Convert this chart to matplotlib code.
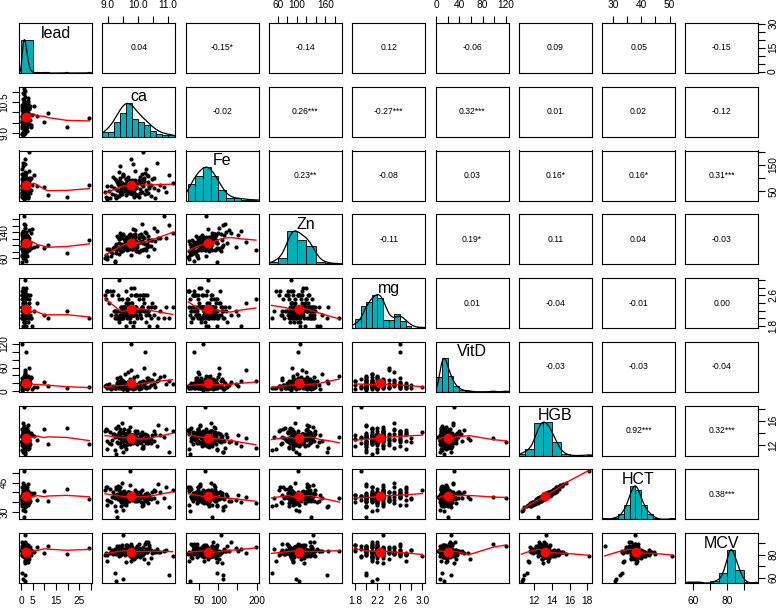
import numpy as np
import matplotlib
matplotlib.use("Agg")
import matplotlib.pyplot as plt
from matplotlib import font_manager
from matplotlib.patches import Rectangle

# ---------------- data ----------------
names = ["lead", "ca", "Fe", "Zn", "mg", "VitD", "HGB", "HCT", "MCV"]

lead = [1.6, 1.0, 2.4, 0.6, 2.0, 3.2, 1.4, 1.8, 0.5, 2.7, 0.9, 2.2, 1.3, 3.6,
        1.9, 0.7, 2.3, 1.1, 29.3, 1.7, 0.8, 3.0, 1.5, 1.2, 0.5, 2.2, 3.4, 1.0,
        1.9, 2.6, 1.4, 0.4, 2.1, 0.8, 19.6, 2.8, 1.7, 1.0, 4.1, 1.5, 1.2, 2.4,
        0.7, 2.0, 0.9, 3.1, 1.8, 1.3, 5.6, 2.2, 1.1, 0.3, 2.6, 1.6, 1.4, 1.9,
        3.5, 1.0, 2.3, 11.5, 1.3, 2.9, 1.5, 0.6, 1.9, 1.2, 2.3, 0.8, 3.2, 1.7,
        1.1, 2.1, 0.5, 2.5, 1.6, 7.0, 1.0, 2.2, 2.7, 0.7, 1.7, 4.4, 1.3, 2.0,
        2.4, 0.9, 1.5, 3.3, 1.3, 0.5, 2.1, 10.0, 1.8, 2.8, 1.0, 1.6, 0.6, 2.5,
        1.9, 1.4, 3.7, 0.8, 1.7, 2.3, 1.2, 2.0, 0.4, 3.0, 1.5, 1.0, 4.8, 1.8,
        1.4, 2.6, 2.0, 0.6, 1.1, 3.9, 1.6, 0.7, 2.5, 2.1, 1.3, 1.8, 3.1, 1.0,
        2.2, 0.5, 1.7, 2.7, 1.2, 1.5, 3.4, 0.9, 2.0, 2.4, 1.4, 0.7, 1.9, 1.1]

ca = [9.72, 9.46, 10.12, 9.33, 9.88, 9.65, 10.27, 9.52, 8.94, 9.77, 10.05, 9.43, 10.48, 9.91,
      9.57, 9.68, 9.25, 11.15, 9.74, 9.83, 9.49, 10.17, 9.62, 9.08, 10.35, 9.79, 9.44, 9.37,
      9.95, 9.71, 10.08, 9.55, 10.22, 9.66, 9.29, 10.68, 9.76, 9.86, 9.41, 9.63, 10.14, 9.58,
      9.69, 9.34, 9.92, 10.43, 9.47, 9.75, 10.31, 10.03, 8.97, 9.64, 9.53, 9.84, 9.22, 9.78,
      10.19, 9.42, 9.73, 9.97, 10.87, 9.61, 9.56, 10.26, 9.36, 9.70, 9.14, 9.48, 9.89, 10.07,
      9.67, 10.38, 9.51, 9.79, 9.27, 9.81, 8.91, 9.45, 10.11, 9.62, 10.52, 9.31, 9.74, 9.59,
      9.94, 9.68, 9.43, 10.16, 9.38, 9.77, 10.24, 9.54, 9.65, 9.87, 9.03, 10.73, 9.24, 9.71,
      9.50, 10.09, 9.63, 9.93, 10.33, 9.46, 9.35, 9.76, 8.96, 10.57, 9.66, 9.41, 9.85, 10.18,
      9.72, 9.28, 9.57, 9.82, 9.61, 10.29, 11.04, 10.04, 9.49, 9.78, 9.32, 9.17, 9.98, 9.64,
      10.36, 10.13, 8.98, 9.96, 10.45, 9.39, 10.21, 10.92, 9.90, 9.11, 10.06, 10.64, 10.32, 10.55]

Fe = [68, 47, 91, 33, 72, 64, 55, 108, 27, 42, 86, 77, 95, 128,
      51, 61, 36, 83, 75, 152, 113, 69, 97, 24, 45, 79, 58, 88,
      66, 92, 44, 73, 38, 104, 29, 53, 62, 49, 99, 85, 117, 70,
      57, 76, 81, 31, 41, 65, 110, 94, 22, 59, 71, 87, 63, 172,
      89, 46, 78, 35, 67, 96, 52, 134, 74, 43, 39, 82, 61, 106,
      54, 69, 115, 93, 26, 71, 48, 84, 77, 37, 102, 56, 90, 64,
      62, 73, 41, 198, 31, 59, 119, 68, 86, 28, 50, 75, 98, 81,
      79, 88, 95, 34, 109, 66, 53, 44, 70, 23, 47, 146, 72, 83,
      57, 91, 64, 38, 76, 42, 112, 30, 67, 55, 85, 105, 78, 97,
      63, 49, 25, 36, 74, 124, 101, 46, 92, 69, 58, 158, 87, 61]

Zn = [88, 104, 127, 92, 109, 112, 85, 134, 71, 96, 122, 83, 117, 146,
      101, 94, 52, 138, 115, 131, 99, 125, 106, 82, 68, 87, 91, 119,
      86, 129, 110, 97, 103, 89, 75, 121, 93, 114, 136, 84, 166, 98,
      107, 90, 124, 116, 81, 102, 95, 132, 64, 88, 118, 127, 93, 111,
      121, 85, 105, 99, 189, 92, 113, 137, 87, 108, 77, 96, 126, 83,
      94, 117, 130, 89, 104, 97, 62, 123, 86, 111, 153, 91, 135, 100,
      114, 98, 128, 84, 73, 106, 139, 90, 118, 95, 87, 122, 47, 103,
      92, 133, 109, 81, 115, 99, 126, 69, 88, 112, 120, 94, 148, 105,
      131, 86, 116, 97, 124, 102, 163, 79, 85, 119, 129, 91, 93, 108,
      96, 113, 56, 82, 98, 107, 89, 122, 135, 66, 110, 142, 128, 87]

mg = [2.2, 2.0, 2.3, 2.6, 2.1, 2.2, 1.9, 2.3, 2.5, 2.1, 2.2, 2.0, 2.4, 2.3,
      2.1, 2.3, 2.2, 2.3, 2.0, 2.1, 2.2, 2.6, 1.8, 2.7, 2.2, 2.1, 2.0, 2.5,
      2.3, 2.2, 2.1, 2.3, 2.6, 2.4, 2.2, 2.0, 2.1, 2.8, 2.0, 2.2, 2.3, 2.1,
      2.0, 2.2, 2.6, 2.3, 2.1, 1.9, 2.2, 2.5, 2.7, 2.0, 2.3, 2.1, 2.2, 2.4,
      2.2, 2.1, 2.3, 2.0, 2.0, 2.2, 2.3, 2.1, 3.0, 2.2, 2.6, 2.5, 2.3, 2.1,
      2.3, 1.8, 2.0, 2.2, 2.1, 2.4, 2.6, 2.3, 2.2, 2.7, 2.1, 2.0, 2.3, 2.2,
      2.1, 2.2, 2.3, 2.5, 2.0, 2.6, 2.2, 2.1, 2.3, 1.9, 2.4, 2.2, 2.0, 2.3,
      2.2, 2.0, 2.1, 2.6, 2.3, 2.2, 2.0, 2.1, 2.7, 2.3, 2.5, 2.2, 1.8, 2.6,
      2.3, 2.1, 2.2, 2.3, 2.4, 2.6, 2.0, 2.2, 2.1, 2.8, 2.0, 2.7, 2.2, 2.5,
      2.1, 2.3, 2.7, 2.6, 2.0, 1.9, 2.4, 2.3, 2.2, 2.1, 2.6, 1.8, 2.2, 2.3]

VitD = [14.2, 8.5, 22.6, 17.8, 35.1, 12.4, 9.2, 26.3, 15.7, 19.4, 7.1, 13.6, 28.9, 16.5,
        42.6, 24.8, 9.7, 18.2, 11.3, 13.9, 6.4, 21.5, 16.1, 8.8, 33.7, 19.6, 27.2, 12.8,
        17.3, 9.5, 23.9, 14.6, 98.0, 11.7, 8.1, 29.4, 18.8, 15.2, 36.8, 7.6, 21.1, 13.3,
        19.9, 25.7, 8.3, 16.9, 12.1, 31.5, 9.9, 22.3, 14.8, 3.8, 18.5, 27.8, 11.2, 54.3,
        15.6, 7.8, 20.4, 13.1, 38.2, 17.4, 9.4, 24.1, 11.9, 19.0, 8.6, 29.7, 16.3, 12.5,
        22.8, 26.9, 6.9, 18.7, 14.4, 10.8, 13.7, 15.9, 9.1, 21.8, 44.5, 33.2, 17.1, 8.2,
        12.9, 19.3, 27.5, 25.2, 16.6, 120.0, 11.5, 23.4, 7.4, 14.1, 18.1, 37.4, 9.8, 10.6,
        16.8, 8.9, 21.7, 13.5, 30.6, 17.9, 9.6, 28.1, 15.4, 11.8, 47.9, 19.7, 7.3, 24.5,
        14.9, 12.7, 10.3, 18.4, 8.0, 34.5, 26.2, 22.0, 16.0, 9.3, 20.9, 13.0, 39.6, 17.6,
        11.0, 23.1, 8.7, 15.1, 29.0, 12.2, 57.8, 19.1, 9.0, 6.6, 14.0, 25.9, 31.9, 18.0]

HGB = [13.2, 12.6, 14.1, 13.5, 12.9, 13.8, 12.3, 13.4, 14.6, 12.8, 13.1, 11.7, 13.6, 12.5,
       13.9, 12.7, 13.3, 14.4, 12.2, 13.7, 10.8, 12.9, 13.0, 14.2, 12.4, 13.5, 11.9, 13.8,
       12.6, 12.8, 13.4, 12.1, 13.1, 13.9, 14.8, 15.3, 13.6, 12.5, 14.0, 13.2, 11.5, 12.9,
       13.7, 12.3, 14.3, 13.0, 12.7, 18.2, 13.5, 12.8, 14.5, 13.3, 11.8, 12.4, 13.9, 13.1,
       12.9, 14.7, 13.6, 12.2, 13.4, 11.4, 13.8, 12.6, 14.1, 13.2, 12.8, 15.6, 13.5, 12.5,
       14.2, 13.0, 12.7, 13.7, 10.6, 12.9, 14.4, 13.3, 12.3, 13.9, 12.6, 13.6, 14.9, 12.1,
       13.4, 12.8, 14.0, 11.6, 13.1, 12.5, 13.8, 14.6, 12.9, 13.2, 12.4, 13.7, 11.2, 14.3,
       12.7, 13.5, 12.2, 14.1, 13.0, 12.8, 15.1, 13.3, 12.6, 13.9, 14.5, 12.3, 13.6, 11.9,
       13.2, 14.8, 12.9, 13.4, 12.1, 13.7, 10.9, 12.7, 14.2, 13.1, 12.5, 13.8, 14.4, 13.0,
       12.8, 13.6, 11.3, 14.0, 12.4, 13.3, 12.9, 14.7, 13.5, 12.2, 13.9, 11.8, 13.1, 14.3]

HCT = [38.4, 35.6, 41.5, 38.5, 37.4, 38.4, 36.3, 38.0, 42.6, 36.8, 38.2, 33.1, 40.3, 35.5,
       39.4, 37.6, 37.3, 41.5, 36.5, 38.6, 31.0, 37.8, 37.3, 41.6, 34.8, 38.9, 35.3, 39.1,
       37.1, 35.6, 39.7, 34.2, 37.8, 40.3, 41.9, 44.4, 38.6, 37.1, 39.5, 38.3, 33.3, 36.4,
       38.8, 36.7, 41.1, 36.5, 37.3, 51.0, 39.7, 36.2, 42.7, 37.9, 34.7, 36.7, 38.7, 37.9,
       37.5, 42.9, 38.2, 35.8, 37.3, 33.6, 39.7, 35.8, 41.5, 37.1, 37.6, 44.9, 38.5, 37.3,
       39.9, 38.5, 36.5, 39.9, 30.7, 36.2, 41.5, 39.2, 35.1, 38.5, 37.2, 39.2, 43.6, 34.5,
       39.0, 36.0, 40.5, 34.7, 37.1, 37.4, 39.4, 40.6, 37.9, 38.2, 35.5, 40.2, 33.3, 40.1,
       37.8, 38.3, 35.6, 39.7, 38.3, 35.7, 43.4, 38.9, 36.3, 41.0, 40.5, 36.1, 38.7, 33.5,
       37.8, 42.8, 38.2, 37.7, 35.5, 39.0, 32.4, 37.9, 40.0, 36.8, 27.2, 40.3, 40.1, 37.8,
       37.3, 38.0, 33.8, 39.6, 37.0, 38.1, 36.5, 42.9, 39.1, 34.9, 40.4, 35.3, 36.5, 41.4]

MCV = [80.8, 85.1, 79.4, 83.6, 76.2, 87.9, 84.5, 97.0, 81.2, 86.2, 78.6, 82.3, 81.7, 83.1,
       82.1, 86.7, 84.8, 78.3, 85.6, 82.9, 59.0, 80.1, 88.3, 81.5, 83.9, 77.9, 82.7, 80.4,
       85.3, 86.5, 77.5, 83.2, 89.4, 81.9, 80.6, 82.5, 74.6, 84.1, 79.7, 87.2, 83.0, 81.4,
       86.1, 84.7, 81.1, 76.8, 88.6, 79.0, 82.2, 85.9, 80.2, 83.4, 84.4, 79.1, 82.8, 81.6,
       80.9, 79.8, 84.0, 87.4, 83.3, 73.8, 82.4, 91.2, 78.9, 85.5, 83.7, 80.5, 81.3, 82.6,
       81.0, 88.1, 84.6, 77.2, 57.0, 86.9, 79.6, 82.0, 85.0, 80.7, 82.9, 84.2, 81.8, 83.5,
       78.1, 84.9, 82.7, 86.4, 80.3, 87.6, 83.1, 81.5, 84.3, 77.7, 85.7, 82.3, 64.0, 83.8,
       84.8, 80.0, 86.3, 81.4, 72.9, 83.9, 82.6, 89.1, 79.2, 82.5, 81.7, 85.8, 83.0, 80.9,
       85.4, 81.1, 79.3, 86.0, 83.6, 81.9, 62.0, 88.9, 82.1, 84.1, 87.0, 80.7, 82.8, 83.3,
       86.6, 79.9, 74.1, 81.3, 84.0, 87.3, 76.4, 83.7, 80.2, 82.4, 78.5, 85.2, 90.6, 82.2]

# correlation texts of the upper panels
cor_labels = [
    ["", "0.04", "-0.15*", "-0.14", "0.12", "-0.06", "0.09", "0.05", "-0.15"],
    ["", "", "-0.02", "0.26***", "-0.27***", "0.32***", "0.01", "0.02", "-0.12"],
    ["", "", "", "0.23**", "-0.08", "0.03", "0.16*", "0.16*", "0.31***"],
    ["", "", "", "", "-0.11", "0.19*", "0.11", "0.04", "-0.03"],
    ["", "", "", "", "", "0.01", "-0.04", "-0.01", "0.00"],
    ["", "", "", "", "", "", "-0.03", "-0.03", "-0.04"],
    ["", "", "", "", "", "", "", "0.92***", "0.32***"],
    ["", "", "", "", "", "", "", "", "0.38***"],
    ["", "", "", "", "", "", "", "", ""],
]

# outer axis ticks and tick labels (index = variable)
top_ticks = {1: ([9.0, 9.5, 10.0, 10.5, 11.0], ["9.0", "", "10.0", "", "11.0"]),
             3: ([60, 80, 100, 120, 140, 160, 180], ["60", "", "100", "", "", "160", ""]),
             5: ([0, 20, 40, 60, 80, 100, 120], ["0", "", "40", "", "80", "", "120"]),
             7: ([30, 35, 40, 45, 50], ["30", "", "40", "", "50"])}
bottom_ticks = {0: ([0, 5, 10, 15, 20, 25, 30], ["0", "5", "", "15", "", "25", ""]),
                2: ([50, 100, 150, 200], ["50", "100", "", "200"]),
                4: ([1.8, 2.0, 2.2, 2.4, 2.6, 2.8, 3.0], ["1.8", "", "2.2", "", "2.6", "", "3.0"]),
                6: ([12, 14, 16, 18], ["12", "14", "16", "18"]),
                8: ([60, 70, 80, 90], ["60", "", "80", ""])}
left_ticks = {1: ([9.0, 9.5, 10.0, 10.5, 11.0], ["9.0", "", "", "10.5", ""]),
              3: ([60, 80, 100, 120, 140, 160, 180], ["60", "", "", "", "140", "", ""]),
              5: ([0, 20, 40, 60, 80, 100, 120], ["0", "", "", "60", "", "", "120"]),
              7: ([30, 35, 40, 45, 50], ["30", "", "", "45", ""])}
right_ticks = {0: ([0, 5, 10, 15, 20, 25, 30], ["0", "", "", "15", "", "", "30"]),
               2: ([50, 100, 150, 200], ["50", "", "150", ""]),
               4: ([1.8, 2.0, 2.2, 2.4, 2.6, 2.8, 3.0], ["1.8", "", "", "", "2.6", "", ""]),
               6: ([12, 14, 16, 18], ["12", "", "16", ""]),
               8: ([60, 70, 80, 90], ["60", "", "80", ""])}

# ---------------- styling ----------------
HIST_COL = "#00AFBB"
installed = {f.name for f in font_manager.fontManager.ttflist}
FONT = "Liberation Sans Narrow" if "Liberation Sans Narrow" in installed else "Liberation Sans"
plt.rcParams["font.family"] = [FONT, "DejaVu Sans"]

W, H = 778, 609
LEFT0, TOP0 = 19.0, 23.0
PW, PH = 73.0, 50.0
DX, DY = 83.3, 63.75


def pretty_breaks(x, nclass):
    lo, hi = float(np.min(x)), float(np.max(x))
    cell = (hi - lo) / nclass
    U = 10 ** np.floor(np.log10(cell))
    unit = U
    h, h5 = 1.5, 0.5 + 1.5 * 1.5
    if 2 * U - cell < h * (cell - unit):
        unit = 2 * U
        if 5 * U - cell < h5 * (cell - unit):
            unit = 5 * U
            if 10 * U - cell < h * (cell - unit):
                unit = 10 * U
    s = np.floor(lo / unit + 1e-7)
    e = np.ceil(hi / unit - 1e-7)
    return unit * np.arange(s, e + 1)


def hist_counts(x, breaks):
    fz = 1e-7 * np.median(np.diff(breaks))
    b = breaks.astype(float).copy()
    b[0] -= fz
    b[1:] += fz
    return np.histogram(x, bins=b)[0]


def density_curve(x):
    x = np.asarray(x, float)
    n = len(x)
    sd = x.std(ddof=1)
    q75, q25 = np.percentile(x, [75, 25])
    bw = 1.06 * min(sd, (q75 - q25) / 1.34) * n ** -0.2 * 1.2
    g = np.linspace(x.min() - 3 * bw, x.max() + 3 * bw, 512)
    d = np.exp(-0.5 * ((g[:, None] - x[None, :]) / bw) ** 2).sum(axis=1)
    return g, d / d.max()


def lowess(x, y, f=2 / 3, iters=3):
    x = np.asarray(x, float)
    y = np.asarray(y, float)
    o = np.argsort(x, kind="mergesort")
    x, y = x[o], y[o]
    n = len(x)
    ns = max(min(int(f * n + 1e-7), n), 2)
    rng = x[-1] - x[0]
    rw = np.ones(n)
    fit = y.copy()
    for it in range(iters + 1):
        fit = np.empty(n)
        for i in range(n):
            d = np.abs(x - x[i])
            hh = np.sort(d)[ns - 1]
            if hh <= 0:
                hh = 1e-12
            u = d / hh
            w = np.where(u < 1, (1 - u ** 3) ** 3, 0.0) * rw
            sw = w.sum()
            if sw <= 0:
                fit[i] = y[i]
                continue
            w = w / sw
            a = (w * x).sum()
            b = (w * (x - a) ** 2).sum()
            if np.sqrt(b) > 0.001 * rng:
                beta = (w * (x - a) * y).sum() / b
                fit[i] = (w * y).sum() + beta * (x[i] - a)
            else:
                fit[i] = (w * y).sum()
        if it == iters:
            break
        r = y - fit
        cm = 6 * np.median(np.abs(r))
        if cm < 1e-12:
            break
        u = np.abs(r) / cm
        rw = np.where(u < 1, (1 - u ** 2) ** 2, 0.0)
    return x, fit


data = [np.asarray(v, float) for v in [lead, ca, Fe, Zn, mg, VitD, HGB, HCT, MCV]]
nv = len(data)
lims = []
for v in data:
    r = v.max() - v.min()
    lims.append((v.min() - 0.04 * r, v.max() + 0.04 * r))

fig = plt.figure(figsize=(W / 100, H / 100), dpi=100)
fig.patch.set_facecolor("white")

XTICK_KW = dict(direction="out", length=5.0, width=0.8, labelsize=7.3, pad=4.0, color="black")
YTICK_KW = dict(direction="out", length=5.0, width=0.8, labelsize=7.3, pad=2.0, color="black")

for i in range(nv):
    for j in range(nv):
        left = LEFT0 + j * DX
        top = TOP0 + i * DY
        ax = fig.add_axes([left / W, 1 - (top + PH) / H, PW / W, PH / H])
        ax.set_xlim(*lims[j])
        ax.set_ylim(*lims[i])
        for sp in ax.spines.values():
            sp.set_linewidth(0.8)
            sp.set_color("black")
        ax.set_xticks([])
        ax.set_yticks([])

        if i == j:
            v = data[i]
            br = pretty_breaks(v, int(np.ceil(np.log2(len(v)) + 1)))
            cnt = hist_counts(v, br)
            hts = cnt / cnt.max()
            tr = ax.get_xaxis_transform()
            for k in range(len(cnt)):
                if cnt[k] == 0:
                    continue
                ax.add_patch(Rectangle((br[k], 0), br[k + 1] - br[k], hts[k] / 1.5,
                                       transform=tr, facecolor=HIST_COL,
                                       edgecolor="black", linewidth=0.6, zorder=2))
            g, d = density_curve(v)
            ax.plot(g, d / 1.5, transform=tr, color="black", lw=0.9, zorder=3)
            ax.text(0.5, 0.80, names[i], transform=ax.transAxes, ha="center",
                    va="center", fontsize=11.5, zorder=4)
        elif i > j:
            x, y = data[j], data[i]
            ax.scatter(x, y, s=9, c="black", linewidths=0, zorder=2)
            xs, ys = lowess(x, y)
            ax.plot(xs, ys, color="red", lw=1.0, zorder=3)
            ax.scatter([x.mean()], [y.mean()], s=50, c="red", linewidths=0, zorder=4)
        else:
            ax.text(0.5, 0.5, cor_labels[i][j], transform=ax.transAxes,
                    ha="center", va="center", fontsize=6.2)

        # outer axes
        if i == 0 and j in top_ticks:
            t, l = top_ticks[j]
            ax.set_xticks(t)
            ax.set_xticklabels(l)
            ax.tick_params(axis="x", top=True, bottom=False, labeltop=True,
                           labelbottom=False, **XTICK_KW)
        if i == nv - 1 and j in bottom_ticks:
            t, l = bottom_ticks[j]
            ax.set_xticks(t)
            ax.set_xticklabels(l)
            ax.tick_params(axis="x", top=False, bottom=True, labeltop=False,
                           labelbottom=True, **XTICK_KW)
        if j == 0 and i in left_ticks:
            t, l = left_ticks[i]
            ax.set_yticks(t)
            ax.set_yticklabels(l)
            ax.tick_params(axis="y", left=True, right=False, labelleft=True,
                           labelright=False, labelrotation=90, **YTICK_KW)
            for lab in ax.get_yticklabels():
                lab.set_va("center")
        if j == nv - 1 and i in right_ticks:
            t, l = right_ticks[i]
            ax.set_yticks(t)
            ax.set_yticklabels(l)
            ax.tick_params(axis="y", left=False, right=True, labelleft=False,
                           labelright=True, labelrotation=90, **YTICK_KW)
            for lab in ax.get_yticklabels():
                lab.set_va("center")
        ax.set_xlim(*lims[j])
        ax.set_ylim(*lims[i])

fig.savefig("out.png", dpi=100, facecolor="white")
